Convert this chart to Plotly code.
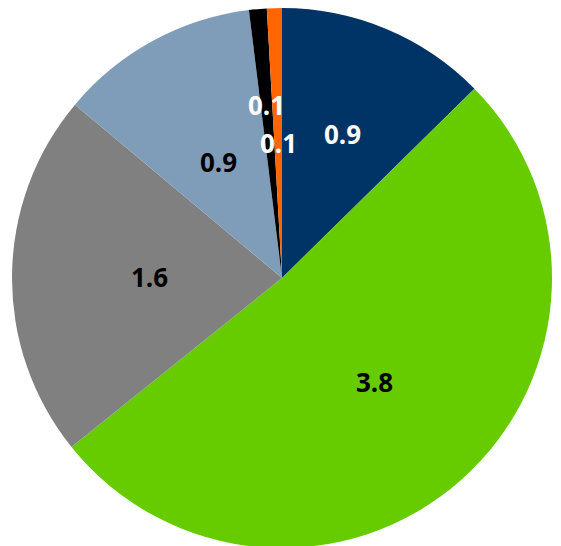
import math
import plotly.graph_objects as go

# Data (clockwise from 12 o'clock)
labels = ["Navy", "Green", "Gray", "Light blue", "Black", "Orange"]
values = [0.93, 3.80, 1.61, 0.88, 0.078, 0.066]
colors = ["#003366", "#66CC00", "#808080", "#7F9DB9", "#000000", "#FF6600"]
text_colors = ["white", "black", "black", "black", "white", "white"]
label_radius = [0.58, 0.515, 0.49, 0.49, 0.645, 0.50]

fig = go.Figure(go.Pie(
    labels=labels,
    values=values,
    sort=False,
    direction="clockwise",
    rotation=0,
    marker=dict(colors=colors, line=dict(width=0)),
    textinfo="none",
    hoverinfo="label+value",
    showlegend=False,
    domain=dict(x=[0, 1], y=[0, 1]),
))

total = sum(values)
cum = 0.0
annotations = []
for v, tc, rf in zip(values, text_colors, label_radius):
    mid = (cum + v / 2) / total * 2 * math.pi
    cum += v
    annotations.append(dict(
        x=0.5 + 0.5 * rf * math.sin(mid),
        y=0.5 + 0.5 * rf * math.cos(mid),
        xref="paper", yref="paper",
        text=f"{v:.1f}",
        showarrow=False,
        font=dict(family="Open Sans", size=26, color=tc, weight="bold"),
        xanchor="center", yanchor="middle",
    ))

fig.update_layout(
    width=553, height=540,
    margin=dict(l=4, r=9, t=0, b=0),
    paper_bgcolor="white",
    plot_bgcolor="white",
    annotations=annotations,
)

fig.write_html("out.html")
